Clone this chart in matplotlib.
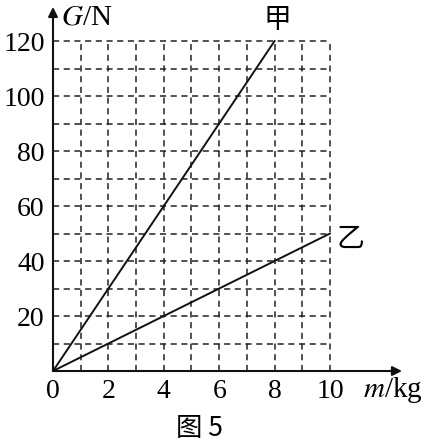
import matplotlib
matplotlib.use("Agg")
import matplotlib.pyplot as plt
import numpy as np

plt.rcParams['font.family'] = ['Liberation Serif', 'Noto Sans CJK SC']
plt.rcParams['mathtext.fontset'] = 'stix'

# data
m_jia = [0, 8]
G_jia = [0, 120]
m_yi = [0, 10]
G_yi = [0, 50]
x_ticks = [0, 2, 4, 6, 8, 10]
y_ticks = [20, 40, 60, 80, 100, 120]
grid_x = np.arange(1, 11)
grid_y = np.arange(10, 130, 10)

fig = plt.figure(figsize=(4.33, 4.44), dpi=100)
ax = fig.add_axes([0.1224, 0.1644, 0.806, 0.82])
ax.set_xlim(0, 12.6)
ax.set_ylim(0, 132.4)

# dashed grid, only inside 0..10 x 0..120
ax.vlines(grid_x, 0, 120, colors='#222222', linestyles=(0, (4, 3)), linewidth=1.1)
ax.hlines(grid_y, 0, 10, colors='#222222', linestyles=(0, (4, 3)), linewidth=1.1)

ax.plot(m_jia, G_jia, color='#111111', linewidth=1.4)
ax.plot(m_yi, G_yi, color='#111111', linewidth=1.4)

# axes with arrows
for s in ax.spines.values():
    s.set_visible(False)
ax.annotate('', xy=(12.6, 0), xytext=(0, 0), annotation_clip=False,
            arrowprops=dict(arrowstyle='-|>', color='#111111', lw=1.5,
                            mutation_scale=14, shrinkA=0, shrinkB=0))
ax.annotate('', xy=(0, 132.4), xytext=(0, 0), annotation_clip=False,
            arrowprops=dict(arrowstyle='-|>', color='#111111', lw=1.5,
                            mutation_scale=14, shrinkA=0, shrinkB=0))

ax.set_xticks(x_ticks)
ax.set_yticks(y_ticks)
ax.tick_params(length=0, labelsize=20, pad=6)
ax.tick_params(axis='y', pad=6)

ax.text(8.1, 127.5, '甲', fontsize=20, family='Noto Sans CJK SC',
        ha='center', va='center')
ax.text(10.75, 48, '乙', fontsize=20, family='Noto Sans CJK SC',
        ha='center', va='center')
ax.text(0.3, 128.5, '$G$/N', fontsize=21, ha='left', va='center')
ax.text(11.2, -7, '$m$/kg', fontsize=21, ha='left', va='center')
fig.text(0.46, 0.036, '图 5', fontsize=19, family=['Noto Sans CJK SC'],
         ha='center', va='center')

fig.savefig('out.png', dpi=100)
